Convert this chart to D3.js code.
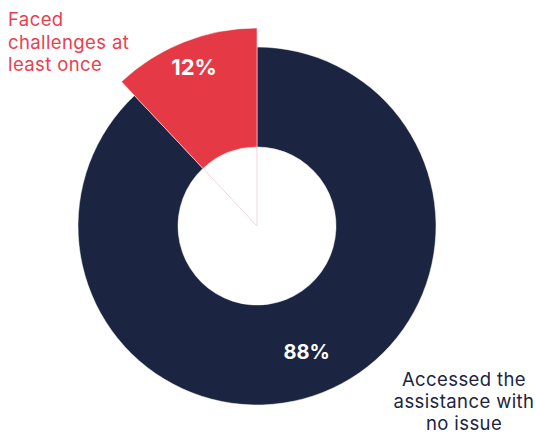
<!DOCTYPE html>
<html>
<head>
<meta charset="utf-8">
<script src="https://cdn.jsdelivr.net/npm/d3@7"></script>
<style>
  html, body { margin: 0; padding: 0; background: #fff; }
  svg { display: block; }
</style>
</head>
<body>
<svg id="chart" width="536" height="435"></svg>
<script>
// Share of respondents by experience with the assistance
const categories = ["Accessed the assistance with no issue", "Faced challenges at least once"];
const values = [88, 12];
const valueLabels = ["88%", "12%"];
const sliceColors = ["#1b2541", "#e63946"];
const labelLines = [
  ["Accessed the", "assistance with", "no issue"],
  ["Faced", "challenges at", "least once"]
];

const width = 536, height = 435;
const cx = 257, cy = 226;
const innerR = 79, outerR = 179, highlightR = 198;
const font = "Inter, 'Open Sans', sans-serif";

const svg = d3.select("#chart");
const g = svg.append("g").attr("transform", `translate(${cx},${cy})`);

const pie = d3.pie().sort(null).value(d => d)
  .startAngle(0).endAngle(2 * Math.PI);
const arcs = pie(values);

// faint wedge outline running into the hole
g.append("path")
  .attr("d", d3.arc().innerRadius(0).outerRadius(innerR)(arcs[1]))
  .attr("fill", "none")
  .attr("stroke", "#f1d6dc")
  .attr("stroke-width", 1);

const arcFor = i => d3.arc()
  .innerRadius(innerR)
  .outerRadius(i === 1 ? highlightR : outerR);

g.selectAll("path.slice")
  .data(arcs)
  .join("path")
  .attr("class", "slice")
  .attr("d", (d, i) => arcFor(i)(d))
  .attr("fill", (d, i) => sliceColors[i])
  .attr("stroke", "#ffffff")
  .attr("stroke-width", 0.5);

// value labels inside the slices
const labelRadius = [135, 171];
g.selectAll("text.value")
  .data(arcs)
  .join("text")
  .attr("class", "value")
  .attr("transform", (d, i) => {
    const c = d3.arc().innerRadius(labelRadius[i]).outerRadius(labelRadius[i]).centroid(d);
    return `translate(${c[0]},${c[1]})`;
  })
  .attr("text-anchor", "middle")
  .attr("dy", "0.36em")
  .attr("fill", "#ffffff")
  .attr("font-family", font)
  .attr("font-weight", 700)
  .attr("font-size", (d, i) => i === 1 ? 22 : 20)
  .text((d, i) => valueLabels[i]);

// category labels, one text per line
svg.selectAll("text.red-label")
  .data(labelLines[1])
  .join("text")
  .attr("class", "red-label")
  .attr("x", 8)
  .attr("y", (d, i) => 26 + i * 22.5)
  .attr("fill", "#e8404f")
  .attr("font-family", font)
  .attr("font-size", 18.5)
  .attr("letter-spacing", 0.4)
  .text(d => d);

svg.selectAll("text.dark-label")
  .data(labelLines[0])
  .join("text")
  .attr("class", "dark-label")
  .attr("x", 464)
  .attr("y", (d, i) => 386 + i * 22)
  .attr("text-anchor", "middle")
  .attr("fill", "#1b2541")
  .attr("font-family", font)
  .attr("font-size", 18.5)
  .attr("letter-spacing", 0.4)
  .text(d => d);
</script>
</body>
</html>
